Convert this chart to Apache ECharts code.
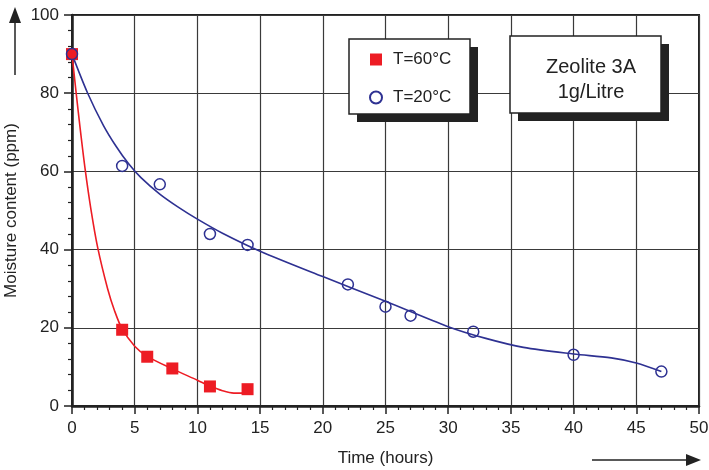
<!DOCTYPE html>
<html>
<head>
<meta charset="utf-8">
<script src="https://cdn.jsdelivr.net/npm/echarts@6/dist/echarts.min.js"></script>
<style>html,body{margin:0;padding:0;background:#fff}#c{width:709px;height:470px}</style>
</head>
<body>
<div id="c"></div>
<script>
// Measured points
var hot_time = [0, 4, 6, 8, 11, 14];
var hot_moist = [90, 19.5, 12.6, 9.6, 5.0, 4.3];
var cold_time = [0, 4, 7, 11, 14, 22, 25, 27, 32, 40, 47];
var cold_moist = [90, 61.4, 56.7, 44.0, 41.2, 31.1, 25.4, 23.1, 19.0, 13.1, 8.8];
// Fitted curves
var hot_fit_time = [0, 0.3, 0.65, 1.05, 1.5, 2.05, 2.84, 3.4, 4, 5, 6, 8, 10, 11, 12, 12.9, 13.5, 14];
var hot_fit_moist = [90, 81, 71, 60.5, 50.5, 40.5, 30, 24.3, 19.7, 15.3, 12.7, 9.5, 6.6, 5.1, 3.9, 3.3, 3.3, 3.7];
var cold_fit_time = [0, 1.25, 2.5, 3.5, 4.5, 5.5, 7, 8.5, 10, 12, 15, 20, 25, 30, 33, 36, 40, 43, 45, 47];
var cold_fit_moist = [90, 80, 71.8, 66.5, 62.0, 58.4, 54.2, 50.8, 47.8, 44.2, 39.6, 33.1, 26.8, 20.3, 17.3, 15.0, 13.3, 12.3, 11.0, 8.8];
var seriesNames = ['T=60°C', 'T=20°C'];
var xTicks = [0, 5, 10, 15, 20, 25, 30, 35, 40, 45, 50];
var yTicks = [0, 20, 40, 60, 80, 100];

function pairs(a, b) { return a.map(function (v, i) { return [v, b[i]]; }); }

var RED = '#ED1C24', BLUE = '#2E3192', INK = '#222';
var FONT = 'Liberation Sans, Arial, sans-serif';

var chart = echarts.init(document.getElementById('c'), null, { renderer: 'canvas' });
chart.setOption({
  backgroundColor: '#fff',
  animation: false,
  textStyle: { fontFamily: FONT },
  grid: { left: 72, right: 10, top: 15, bottom: 64, containLabel: false, outerBoundsMode: 'none',
          show: true, borderColor: INK, borderWidth: 2, backgroundColor: 'transparent' },
  xAxis: {
    type: 'value', min: xTicks[0], max: xTicks[xTicks.length - 1], interval: 5,
    name: 'Time (hours)', nameLocation: 'middle', nameGap: 44,
    nameTextStyle: { fontSize: 17, color: INK, fontFamily: FONT },
    axisLine: { show: true, lineStyle: { color: INK, width: 2.5 } },
    axisTick: { show: true, length: 8, lineStyle: { color: INK, width: 1.5 } },
    minorTick: { show: true, splitNumber: 5, length: 4, lineStyle: { color: INK, width: 1.2 } },
    axisLabel: { fontSize: 17, color: INK, margin: 14, fontFamily: FONT },
    splitLine: { show: true, lineStyle: { color: '#3a3a3a', width: 1.2 } }
  },
  yAxis: {
    type: 'value', min: yTicks[0], max: yTicks[yTicks.length - 1], interval: 20,
    name: 'Moisture content (ppm)', nameLocation: 'middle', nameGap: 43,
    nameTextStyle: { fontSize: 17, color: INK, fontFamily: FONT },
    axisLine: { show: true, lineStyle: { color: INK, width: 2.5 } },
    axisTick: { show: true, length: 8, lineStyle: { color: INK, width: 1.5 } },
    minorTick: { show: true, splitNumber: 5, length: 4, lineStyle: { color: INK, width: 1.2 } },
    axisLabel: { fontSize: 17, color: INK, margin: 13, fontFamily: FONT },
    splitLine: { show: true, lineStyle: { color: '#3a3a3a', width: 1.2 } }
  },
  legend: {
    show: true, orient: 'vertical', left: 364, top: 46,
    itemWidth: 12, itemHeight: 12, itemGap: 21,
    data: [
      { name: seriesNames[0], icon: 'rect' },
      { name: seriesNames[1], icon: 'circle' }
    ],
    textStyle: { fontSize: 17, color: INK, fontFamily: FONT, padding: [0, 0, 0, 6] },
    z: 120
  },
  graphic: [
    { type: 'rect', shape: { x: 357, y: 47, width: 121, height: 75 }, style: { fill: INK }, z: 100 },
    { type: 'rect', shape: { x: 349, y: 39, width: 121, height: 75 }, style: { fill: '#fff', stroke: INK, lineWidth: 1.5 }, z: 101 },
    { type: 'rect', shape: { x: 518, y: 44, width: 151, height: 77 }, style: { fill: INK }, z: 100 },
    { type: 'rect', shape: { x: 510, y: 36, width: 151, height: 77 }, style: { fill: '#fff', stroke: INK, lineWidth: 1.5 }, z: 101 },
    { type: 'text', x: 591, y: 67, style: { text: 'Zeolite 3A', font: '20px ' + FONT, fill: INK, align: 'center', verticalAlign: 'middle' }, z: 102 },
    { type: 'text', x: 591, y: 92, style: { text: '1g/Litre', font: '20px ' + FONT, fill: INK, align: 'center', verticalAlign: 'middle' }, z: 102 },
    { type: 'line', shape: { x1: 15, y1: 75, x2: 15, y2: 20 }, style: { stroke: INK, lineWidth: 1.5 }, z: 100 },
    { type: 'polygon', shape: { points: [[15, 7], [9, 23], [21, 23]] }, style: { fill: INK }, z: 100 },
    { type: 'line', shape: { x1: 592, y1: 460, x2: 690, y2: 460 }, style: { stroke: INK, lineWidth: 1.5 }, z: 100 },
    { type: 'polygon', shape: { points: [[701, 460], [686, 454], [686, 466]] }, style: { fill: INK }, z: 100 }
  ],
  series: [
    {
      name: seriesNames[0] + ' fit', type: 'line', data: pairs(hot_fit_time, hot_fit_moist),
      smooth: 0.3, showSymbol: false, symbol: 'none', lineStyle: { color: RED, width: 1.6 }, z: 3, silent: true
    },
    {
      name: seriesNames[1] + ' fit', type: 'line', data: pairs(cold_fit_time, cold_fit_moist),
      smooth: 0.3, showSymbol: false, symbol: 'none', lineStyle: { color: BLUE, width: 1.6 }, z: 3, silent: true
    },
    {
      name: seriesNames[0], type: 'scatter', data: pairs(hot_time, hot_moist),
      symbol: 'rect', symbolSize: 12, itemStyle: { color: RED, opacity: 1 }, z: 5
    },
    {
      name: seriesNames[1], type: 'scatter', data: pairs(cold_time, cold_moist),
      symbol: 'circle', symbolSize: 11,
      itemStyle: { color: 'rgba(255,255,255,0)', borderColor: BLUE, borderWidth: 1.5, opacity: 1 }, z: 6
    }
  ]
});
</script>
</body>
</html>
